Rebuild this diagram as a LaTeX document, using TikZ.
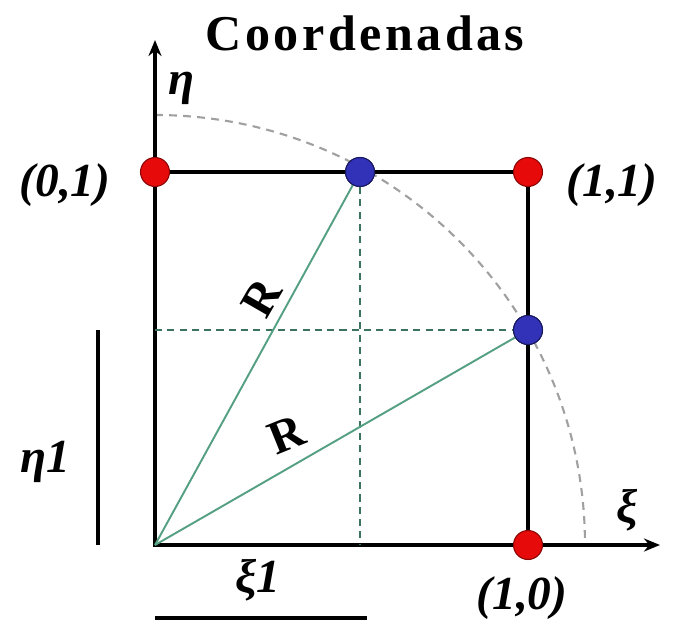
\documentclass[tikz,border=0pt]{standalone}
\usepackage{fontspec}
\setmainfont{Liberation Serif}
\usepackage{tikz}
\usetikzlibrary{arrows.meta,positioning,calc}

\definecolor{radgreen}{RGB}{85,160,130}
\definecolor{projgreen}{RGB}{60,115,95}
\definecolor{arcgray}{RGB}{160,160,160}
\definecolor{dotred}{RGB}{230,10,10}
\definecolor{dotblue}{RGB}{50,50,185}

\begin{document}
\begin{tikzpicture}[
  x=0.02cm,y=0.02cm,
  >={Stealth[length=3.2mm,width=2.6mm]},
  lbl/.style={font=\fontsize{27}{29}\selectfont\bfseries\itshape,inner sep=0pt},
  edge/.style={line width=1.8pt,black},
  axis/.style={->,line width=1.8pt,black},
  radline/.style={line width=1.1pt,radgreen},
  proj/.style={line width=1.5pt,projgreen,dash pattern=on 4pt off 3pt},
  circ/.style={line width=1.2pt,arcgray,dash pattern=on 4.5pt off 3.5pt},
  corner/.style={circle,fill=dotred,draw=dotred!60!black,line width=0.6pt,
                 minimum size=5.8mm,inner sep=0pt},
  onarc/.style={corner,fill=dotblue,draw=dotblue!50!black},
]
\useasboundingbox (-155,-78) rectangle (518,545);

% ---- axes and unit square ------------------------------------------------
\coordinate (O)  at (0,0);
\coordinate (xe) at (505,0);
\coordinate (ye) at (0,505);
\coordinate (sq) at (373,373);
\coordinate (hb) at (0,215);
\coordinate (vb) at (205,0);
\coordinate (a0) at (0,430);

\draw[circ] (a0) arc[start angle=90,end angle=0,radius=430];
\draw[edge] (O) rectangle (sq);
\draw[axis] (O) -- (xe);
\draw[axis] (O) -- (ye);

% ---- points ---------------------------------------------------------------
\node[onarc] (b1) at (205,373) {};
\node[onarc] (b2) at (373,215) {};

\draw[proj] (b1) -- (vb);
\draw[proj] (hb) -- (b2);
\draw[radline] (O) -- (b1);
\draw[radline] (O) -- (b2);

\node[corner] (p01) at (0,373)   {};
\node[corner] (p11) at (373,373) {};
\node[corner] (p10) at (373,0)   {};
\node[onarc] at (b1) {};
\node[onarc] at (b2) {};

% ---- labels ---------------------------------------------------------------
\node[font=\fontsize{28.5}{30}\selectfont\bfseries\addfontfeatures{LetterSpace=7}]
   (title) at (210,512) {Coordenadas};
\node[lbl] (eta) at (27,457) {η};
\node[lbl] (xi)  at (472,35) {ξ};
\node[lbl] (l01) at (-90,360) {(0,1)};
\node[lbl] (l11) at (457,360) {(1,1)};
\node[lbl] (l10) at (367,-53) {(1,0)};
\node[lbl,font=\fontsize{27}{29}\selectfont\bfseries] (R1) at (107,247) [rotate=60] {R};
\node[lbl,font=\fontsize{27}{29}\selectfont\bfseries] (R2) at (132,110) [rotate=22] {R};

% ---- distances eta1 and xi1 -----------------------------------------------
\coordinate (e0) at (-57,0);
\coordinate (e1) at (-57,215);
\coordinate (x0) at (0,-73);
\coordinate (x1) at (212,-73);
\draw[edge] (e0) -- (e1);
\draw[edge] (x0) -- (x1);
\node[lbl] (eta1) at (-110,83) {η1};
\node[lbl] (xi1)  at (103,-35) {ξ1};

\end{tikzpicture}
\end{document}
